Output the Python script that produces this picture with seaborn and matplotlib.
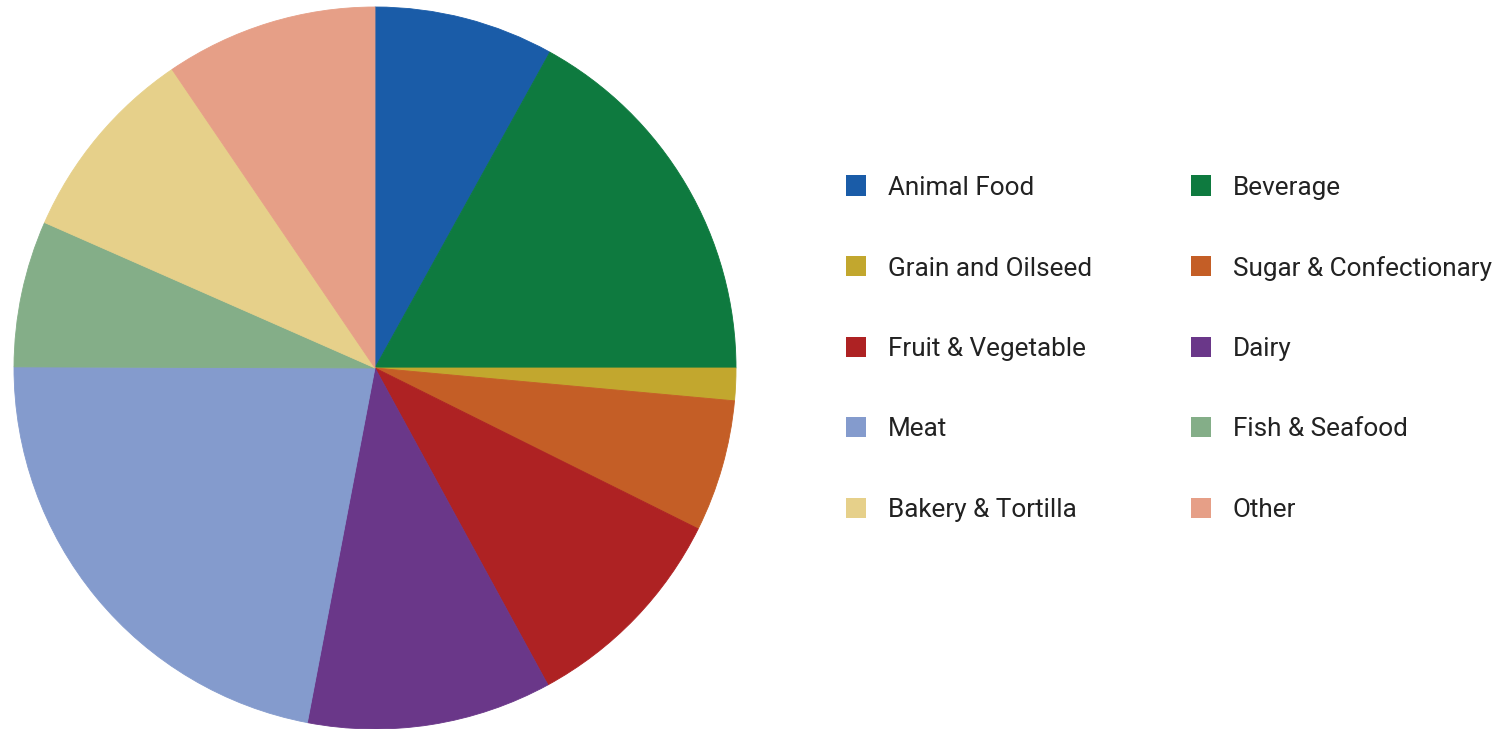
import matplotlib
matplotlib.use("Agg")
import matplotlib.pyplot as plt
import seaborn as sns
from matplotlib.patches import Rectangle

categories = ["Animal Food", "Beverage", "Grain and Oilseed", "Sugar & Confectionary",
              "Fruit & Vegetable", "Dairy", "Meat", "Fish & Seafood",
              "Bakery & Tortilla", "Other"]
values = [8.05, 16.95, 1.45, 5.9, 9.7, 10.95, 22.05, 6.55, 8.9, 9.5]
colors = ["#1a5ca8", "#0e7a3f", "#c2a72e", "#c45e26", "#ae2223",
          "#6a3789", "#849bcd", "#84ae88", "#e6d08a", "#e69f87"]

sns.set_theme(style="white")
plt.rcParams["font.family"] = ["Roboto", "DejaVu Sans"]
palette = sns.color_palette(colors)

W, H = 1499, 729
fig = plt.figure(figsize=(W / 100, H / 100), dpi=100)
fig.patch.set_facecolor("white")

cx, cy, r = 375, 368, 361
ax = fig.add_axes([(cx - r) / W, (H - cy - r) / H, 2 * r / W, 2 * r / H])
ax.pie(values, colors=palette, startangle=90, counterclock=False, radius=1,
       wedgeprops=dict(linewidth=0.6, edgecolor="none"))
for w, c in zip(ax.patches, palette):
    w.set_edgecolor(c)
ax.set_xlim(-1, 1)
ax.set_ylim(-1, 1)
ax.set_aspect("equal")
ax.axis("off")

# legend, two columns
for i, (lab, c) in enumerate(zip(categories, palette)):
    col, row = i % 2, i // 2
    xs = 846 + col * 345
    yc = 185.5 + row * 80.5
    fig.patches.append(Rectangle((xs / W, (H - yc - 10) / H), 20 / W, 20 / H,
                                 transform=fig.transFigure, facecolor=c,
                                 edgecolor="none", figure=fig))
    fig.text((xs + 42) / W, (H - yc) / H, lab, fontsize=18.8, color="#222222",
             va="center_baseline", ha="left")

fig.savefig("out.png", dpi=100)
